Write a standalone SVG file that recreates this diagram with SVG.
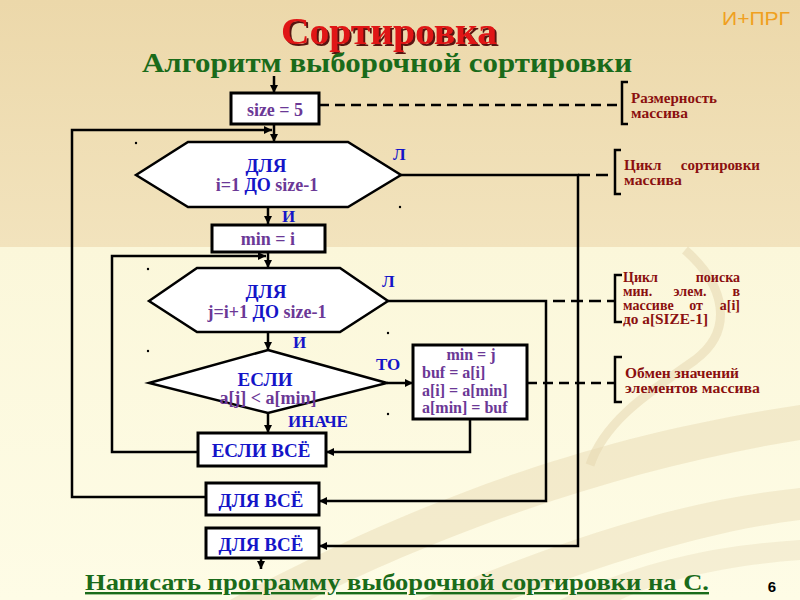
<svg xmlns="http://www.w3.org/2000/svg" width="800" height="600" viewBox="0 0 800 600">
<defs>
<linearGradient id="bgTop" x1="0" y1="0" x2="0" y2="1">
<stop offset="0" stop-color="#ECD8AA"/>
<stop offset="1" stop-color="#F2E3BD"/>
</linearGradient>
<linearGradient id="bgBot" x1="0" y1="0" x2="0" y2="1">
<stop offset="0" stop-color="#FBF7DA"/>
<stop offset="1" stop-color="#FEFCE6"/>
</linearGradient>
<filter id="shadow" x="-10%" y="-20%" width="120%" height="150%">
<feDropShadow dx="2" dy="2" stdDeviation="0.6" flood-color="#4A0000" flood-opacity="0.9"/>
</filter>
<marker id="ah" markerUnits="userSpaceOnUse" markerWidth="9" markerHeight="8" refX="8" refY="4" orient="auto">
<path d="M0,0 L8,4 L0,8 z" fill="#000"/>
</marker>
<style>
.box{fill:#fff;stroke:#000;stroke-width:3}
.shp{fill:#fff;stroke:#000;stroke-width:2.5}
.ln{fill:none;stroke:#000;stroke-width:2.5}
.arr{fill:none;stroke:#000;stroke-width:2.5;marker-end:url(#ah)}
.dash{fill:none;stroke:#000;stroke-width:2.5;stroke-dasharray:10 6}
.br{fill:none;stroke:#000;stroke-width:2.5}
text{font-family:"Liberation Serif","Times New Roman",serif;font-weight:bold}
.p{fill:#6B3896;font-size:18px}
.pb{fill:#6B3896;font-size:16px}
.b{fill:#1414C8;font-size:19px}
.lb{fill:#1414C8;font-size:17px}
.r{fill:#8B1010;font-size:15px}
.rs{fill:#8B1010;font-size:14px}
.c{text-anchor:middle}
.e{text-anchor:end}
</style>
</defs>

<g id="background">
<rect x="0" y="0" width="800" height="247" fill="url(#bgTop)"/>
<rect x="0" y="247" width="800" height="353" fill="url(#bgBot)"/>
<path d="M230,600 C380,520 560,440 800,405 L800,440 C610,470 430,540 310,600 Z" fill="#E6D8B0" opacity="0.45"/>
<path d="M420,600 C560,540 680,500 800,488 L800,520 C700,532 590,570 510,600 Z" fill="#E6D8B0" opacity="0.4"/>
<path d="M685,250 C725,285 735,330 695,360 C650,392 605,420 590,465" fill="none" stroke="#E5D7B0" stroke-width="9" opacity="0.55"/>
<path d="M560,600 C640,560 720,545 800,540 L800,560 C730,565 660,580 620,600 Z" fill="#E9DDB8" opacity="0.4"/>
</g>

<g id="titles">
<text x="389" y="44" font-size="37" fill="#E01414" text-anchor="middle" textLength="216" lengthAdjust="spacingAndGlyphs" filter="url(#shadow)">Сортировка</text>
<text x="387" y="72" font-size="28" fill="#1A6B1A" text-anchor="middle" textLength="490" lengthAdjust="spacingAndGlyphs">Алгоритм выборочной сортировки</text>
<text x="722" y="25" style="font-family:'Liberation Sans',Arial,sans-serif;font-weight:normal" font-size="19" fill="#F0A020" textLength="68" lengthAdjust="spacingAndGlyphs">И+ПРГ</text>
<text x="397" y="590" font-size="24" fill="#1A6B1A" text-anchor="middle" text-decoration="underline" textLength="624" lengthAdjust="spacingAndGlyphs">Написать программу выборочной сортировки на С.</text>
<text x="772" y="592" style="font-family:'Liberation Sans',Arial,sans-serif" font-size="15" fill="#000" text-anchor="middle">6</text>
</g>

<g id="connectors">
<line class="arr" x1="274" y1="76" x2="274" y2="93"/>
<line class="arr" x1="274" y1="124" x2="274" y2="142"/>
<polyline class="arr" points="206,497 72,497 72,130 272,130"/>
<line class="arr" x1="268" y1="207" x2="268" y2="224"/>
<line class="arr" x1="268" y1="252" x2="268" y2="268"/>
<polyline class="arr" points="198,452 112,452 112,256 266,256"/>
<line class="arr" x1="268" y1="332" x2="268" y2="350"/>
<line class="arr" x1="268" y1="413" x2="268" y2="433"/>
<line class="arr" x1="387" y1="383" x2="413" y2="383"/>
<polyline class="arr" points="470,419 470,452 326,452"/>
<polyline class="arr" points="388,301 546,301 546,501 319,501"/>
<polyline class="arr" points="401,175 578,175 578,546 319,546"/>
<line class="arr" x1="261" y1="558" x2="261" y2="569"/>
<line class="dash" x1="319" y1="105" x2="622" y2="105"/>
<line class="dash" x1="578" y1="175" x2="615" y2="175" style="stroke-dasharray:12 6"/>
<line class="dash" x1="553" y1="301" x2="615" y2="301" style="stroke-dasharray:12 6"/>
<line class="dash" x1="527" y1="383" x2="615" y2="383"/>
<path class="br" d="M628,82 H622 V124 H628"/>
<path class="br" d="M621,150 H615 V194 H621"/>
<path class="br" d="M622,275 H615 V322 H622"/>
<path class="br" d="M622,357 H615 V402 H622"/>
</g>

<g id="dots" fill="#000">
<circle cx="136" cy="143" r="1.2"/>
<circle cx="400" cy="207" r="1.2"/>
<circle cx="148" cy="269" r="1.2"/>
<circle cx="388" cy="333" r="1.2"/>
<circle cx="148" cy="351" r="1.2"/>
<circle cx="388" cy="414" r="1.2"/>
</g>

<g id="node-size">
<rect class="box" x="231" y="93" width="88" height="31"/>
<text class="p c" x="275" y="116">size = 5</text>
</g>

<g id="node-for-i">
<polygon class="shp" points="136,175 188,142 348,142 401,175 348,207 188,207"/>
<text class="b c" x="266" y="172">ДЛЯ</text>
<text class="p c" x="267" y="191">i=1 <tspan fill="#1414C8">ДО</tspan> size-1</text>
<text class="lb" x="393" y="160">Л</text>
<text class="lb" x="282" y="222">И</text>
</g>

<g id="node-min-i">
<rect class="box" x="212" y="225" width="113" height="27"/>
<text class="p c" x="268" y="245">min = i</text>
</g>

<g id="node-for-j">
<polygon class="shp" points="149,301 197,268 340,268 388,301 340,332 197,332"/>
<text class="b c" x="266" y="298">ДЛЯ</text>
<text class="p c" x="267" y="318">j=i+1 <tspan fill="#1414C8">ДО</tspan> size-1</text>
<text class="lb" x="382" y="287">Л</text>
<text class="lb" x="293" y="348">И</text>
</g>

<g id="node-if">
<polygon class="shp" points="268,350 387,383 268,413 149,383"/>
<text class="b c" x="265" y="386">ЕСЛИ</text>
<text class="p c" x="268" y="404">a[j] &lt; a[min]</text>
<text class="lb" x="376" y="370">ТО</text>
<text class="lb" x="288" y="427">ИНАЧЕ</text>
</g>

<g id="node-swap">
<rect class="box" x="413" y="345" width="114" height="74"/>
<text class="pb c" x="471" y="360">min = j</text>
<text class="pb" x="422" y="378">buf = a[i]</text>
<text class="pb" x="422" y="396">a[i] = a[min]</text>
<text class="pb" x="422" y="413">a[min] = buf</text>
</g>

<g id="node-if-end">
<rect class="box" x="198" y="433" width="128" height="33"/>
<text class="b c" x="261" y="457">ЕСЛИ ВСЁ</text>
</g>

<g id="node-for-j-end">
<rect class="box" x="206" y="483" width="113" height="32"/>
<text class="b c" x="261" y="507">ДЛЯ ВСЁ</text>
</g>

<g id="node-for-i-end">
<rect class="box" x="206" y="528" width="113" height="30"/>
<text class="b c" x="261" y="551">ДЛЯ ВСЁ</text>
</g>

<g id="notes">
<text class="r" x="631" y="103" textLength="86" lengthAdjust="spacingAndGlyphs">Размерность</text>
<text class="r" x="631" y="118" textLength="57" lengthAdjust="spacingAndGlyphs">массива</text>
<text class="r" x="624" y="170">Цикл</text>
<text class="r e" x="760" y="170">сортировки</text>
<text class="r" x="624" y="185" textLength="58" lengthAdjust="spacingAndGlyphs">массива</text>
<text class="rs" x="623" y="282">Цикл</text>
<text class="rs e" x="740" y="282">поиска</text>
<text class="rs" x="623" y="296">мин.</text>
<text class="rs c" x="690" y="296">элем.</text>
<text class="rs e" x="740" y="296">в</text>
<text class="rs" x="623" y="310">массиве</text>
<text class="rs c" x="696" y="310">от</text>
<text class="rs e" x="740" y="310">a[i]</text>
<text class="rs" x="623" y="324" textLength="85" lengthAdjust="spacingAndGlyphs">до a[SIZE-1]</text>
<text class="rs" x="625" y="378" textLength="114" lengthAdjust="spacingAndGlyphs">Обмен значений</text>
<text class="rs" x="625" y="393" textLength="135" lengthAdjust="spacingAndGlyphs">элементов  массива</text>
</g>
</svg>
